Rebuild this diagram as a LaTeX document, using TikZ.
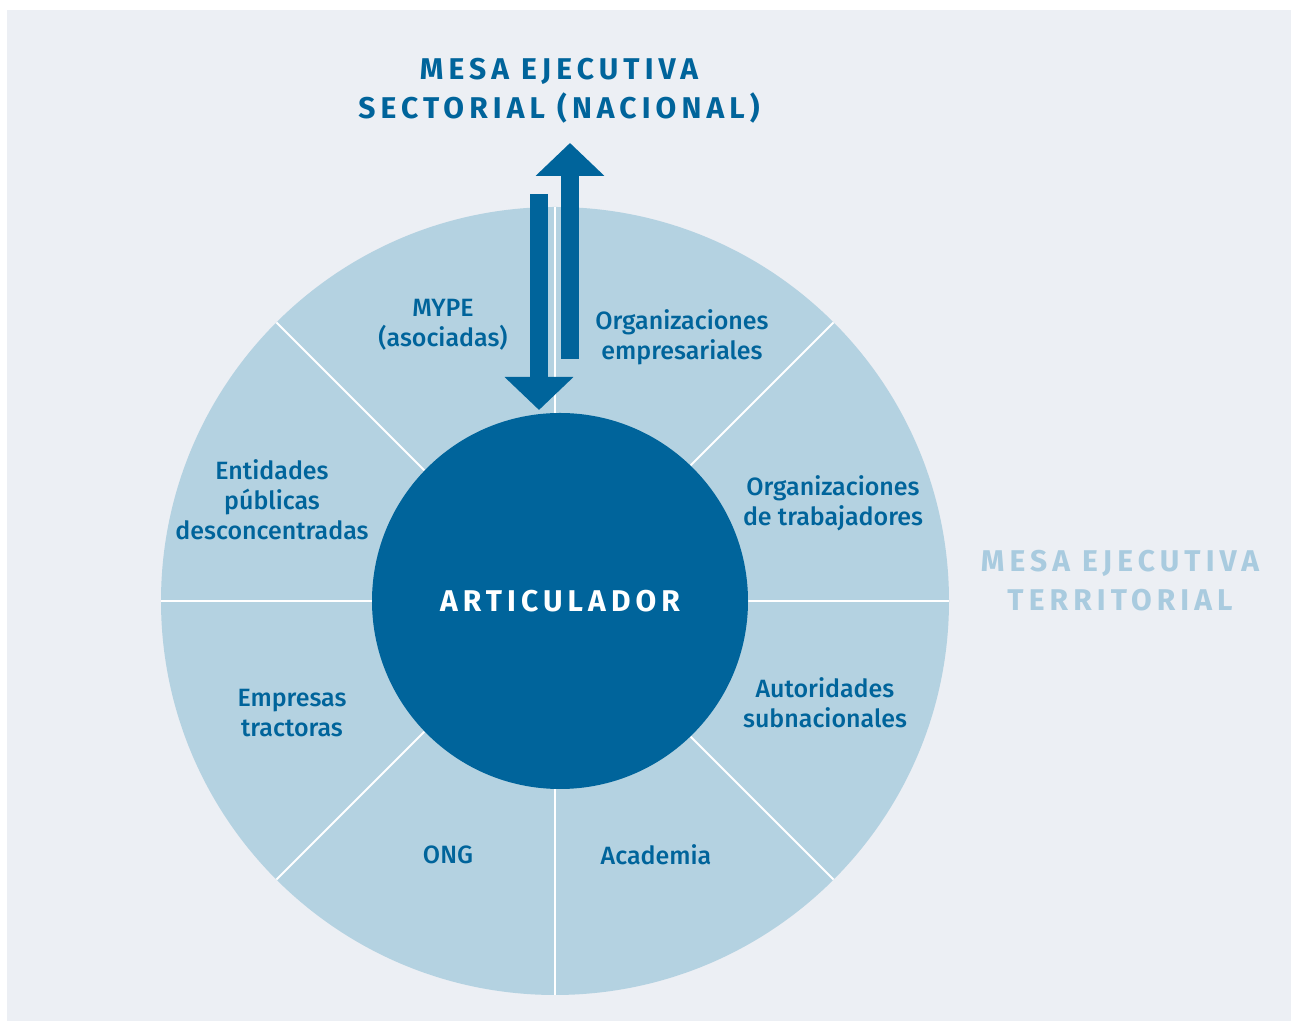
\documentclass[tikz,border=0pt]{standalone}
\usepackage{fontspec}
\setmainfont{Fira Sans}[UprightFont={* Medium},BoldFont={* Bold}]
\usetikzlibrary{arrows.meta,positioning}
\definecolor{darkblue}{HTML}{00649B}
\definecolor{sectorblue}{HTML}{B4D2E1}
\definecolor{bggray}{HTML}{ECEFF4}
\definecolor{paleblue}{HTML}{A9CBDF}
\tikzset{
  sectorlabel/.style={text=darkblue, align=center,
    font=\fontsize{12.5}{15}\selectfont},
  headlabel/.style={align=center,
    font=\fontsize{15}{19.5}\selectfont\bfseries\addfontfeature{LetterSpace=17}},
  flow/.style={darkblue, line width=9pt,
    -{Triangle[width=33.5pt,length=16.5pt]}},
  divider/.style={white, line width=1pt}
}

\begin{document}
\begin{tikzpicture}[x=0.5pt,y=0.5pt]
  \useasboundingbox (0,0) rectangle (1291,1021);
  \fill[bggray] (7,0) rectangle (1291,1011);

  % wheel of actors
  \fill[sectorblue] (555,420) circle[radius=394];
  \foreach \a in {0,45,...,315}
    \draw[divider] (555,420) -- ++(\a:394);
  \node[circle, fill=darkblue, minimum size=188pt, inner sep=0pt,
        headlabel, text=white] (art) at (560,420) {ARTICULADOR};

  \node[sectorlabel] (mype) at (443,696) {MYPE\\(asociadas)};
  \node[sectorlabel] (orgemp) at (682,684) {Organizaciones\\empresariales};
  \node[sectorlabel] (orgtrab) at (833,518) {Organizaciones\\de trabajadores};
  \node[sectorlabel] (autor) at (825,318) {Autoridades\\subnacionales};
  \node[sectorlabel] (acad) at (656,166) {Academia};
  \node[sectorlabel] (ong) at (448,166) {ONG};
  \node[sectorlabel] (empr) at (292,308) {Empresas\\tractoras};
  \node[sectorlabel] (entid) at (272,521) {Entidades\\públicas\\desconcentradas};

  % titles
  \node[headlabel, text=darkblue] (nacional) at (559,930)
    {MESA EJECUTIVA\\SECTORIAL (NACIONAL)};
  \node[headlabel, text=paleblue] (territorial) at (1120,440)
    {MESA EJECUTIVA\\TERRITORIAL};

  % two-way link
  \coordinate (down from) at (539,827);
  \coordinate (down to) at (539,611);
  \coordinate (up from) at (570,662);
  \coordinate (up to) at (570,878);
  \draw[flow] (down from) -- (down to);
  \draw[flow] (up from) -- (up to);
\end{tikzpicture}
\end{document}
